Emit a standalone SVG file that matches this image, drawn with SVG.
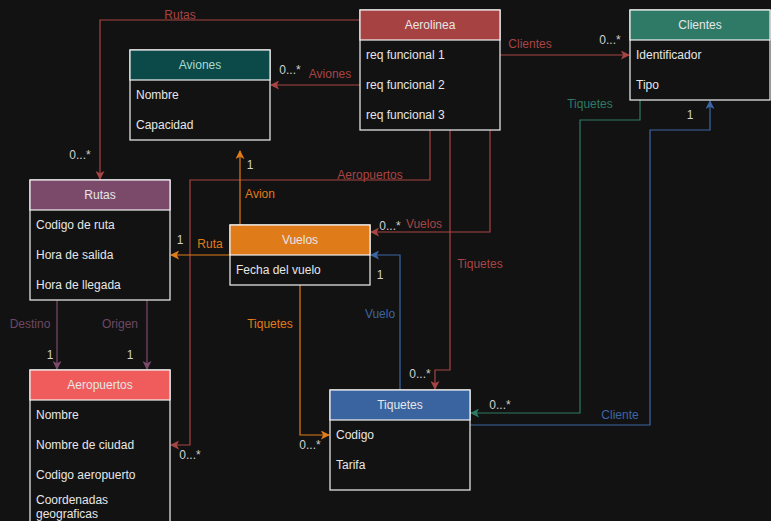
<svg xmlns="http://www.w3.org/2000/svg" width="771" height="521" viewBox="0 0 771 521">
<style>
text{font-family:"Liberation Sans",Arial,sans-serif;font-size:12px}
.f{fill:#e6e6e6}
.h{text-anchor:middle}
.box{fill:#121212;stroke:#f2f2f2;stroke-width:1.2}
.c{fill:none;stroke-width:1.2}
.r{stroke:#a94444}.o{stroke:#e07b19}.p{stroke:#7b4a6b}.b{stroke:#3d66a4}.g{stroke:#2e7a66}
.lr{fill:#a94444}.lo{fill:#e07b19}.lp{fill:#6e4862}.lb{fill:#3d66a4}.lg{fill:#2e7a66}.lw{fill:#d0d0d0}
</style>
<defs>
<marker id="mr" viewBox="0 0 10 10" refX="9" refY="5" markerWidth="9" markerHeight="9" markerUnits="userSpaceOnUse" orient="auto"><path d="M0,0L10,5L0,10L2.5,5z" fill="#a94444"/></marker>
<marker id="mo" viewBox="0 0 10 10" refX="9" refY="5" markerWidth="9" markerHeight="9" markerUnits="userSpaceOnUse" orient="auto"><path d="M0,0L10,5L0,10L2.5,5z" fill="#e07b19"/></marker>
<marker id="mp" viewBox="0 0 10 10" refX="9" refY="5" markerWidth="9" markerHeight="9" markerUnits="userSpaceOnUse" orient="auto"><path d="M0,0L10,5L0,10L2.5,5z" fill="#7b4a6b"/></marker>
<marker id="mb" viewBox="0 0 10 10" refX="9" refY="5" markerWidth="9" markerHeight="9" markerUnits="userSpaceOnUse" orient="auto"><path d="M0,0L10,5L0,10L2.5,5z" fill="#3d66a4"/></marker>
<marker id="mg" viewBox="0 0 10 10" refX="9" refY="5" markerWidth="9" markerHeight="9" markerUnits="userSpaceOnUse" orient="auto"><path d="M0,0L10,5L0,10L2.5,5z" fill="#2e7a66"/></marker>
</defs>
<rect width="771" height="521" fill="#121212"/>
<g id="connectors">
<path class="c r" d="M360,20H100V179" marker-end="url(#mr)"/>
<path class="c r" d="M360,85H271" marker-end="url(#mr)"/>
<path class="c r" d="M500,55H629" marker-end="url(#mr)"/>
<path class="c r" d="M430,130V180H190V445H171" marker-end="url(#mr)"/>
<path class="c r" d="M490,130V232H371" marker-end="url(#mr)"/>
<path class="c r" d="M450,130V370H435V389" marker-end="url(#mr)"/>
<path class="c o" d="M240,225V151" marker-end="url(#mo)"/>
<path class="c o" d="M230,255H171" marker-end="url(#mo)"/>
<path class="c o" d="M300,285V435H329" marker-end="url(#mo)"/>
<path class="c b" d="M400,390V255H371" marker-end="url(#mb)"/>
<path class="c b" d="M470,425H650V130H710V101" marker-end="url(#mb)"/>
<path class="c g" d="M640,100V120H580V413H471" marker-end="url(#mg)"/>
<path class="c p" d="M57,300V369" marker-end="url(#mp)"/>
<path class="c p" d="M147,300V369" marker-end="url(#mp)"/>
<text class="lr h" x="180" y="19">Rutas</text>
<text class="lw h" x="80" y="159">0...*</text>
<text class="lw h" x="290" y="74">0...*</text>
<text class="lr h" x="330" y="78">Aviones</text>
<text class="lr h" x="530" y="48">Clientes</text>
<text class="lw h" x="610" y="44">0...*</text>
<text class="lr h" x="370" y="179">Aeropuertos</text>
<text class="lw h" x="190" y="459">0...*</text>
<text class="lw h" x="390" y="230">0...*</text>
<text class="lr h" x="424" y="228">Vuelos</text>
<text class="lr h" x="480" y="268">Tiquetes</text>
<text class="lw h" x="420" y="378">0...*</text>
<text class="lw h" x="250" y="169">1</text>
<text class="lo h" x="260" y="198">Avion</text>
<text class="lw h" x="180" y="244">1</text>
<text class="lo h" x="210" y="248">Ruta</text>
<text class="lo h" x="270" y="328">Tiquetes</text>
<text class="lw h" x="310" y="449">0...*</text>
<text class="lw h" x="380" y="279">1</text>
<text class="lb h" x="380" y="318">Vuelo</text>
<text class="lg h" x="590" y="108">Tiquetes</text>
<text class="lw h" x="500" y="409">0...*</text>
<text class="lb h" x="620" y="419">Cliente</text>
<text class="lw h" x="690" y="119">1</text>
<text class="lp h" x="30" y="328">Destino</text>
<text class="lp h" x="120" y="328">Origen</text>
<text class="lw h" x="50" y="359">1</text>
<text class="lw h" x="130" y="359">1</text>
</g>
<g id="aerolinea">
<rect class="box" x="360" y="10" width="140" height="120"/>
<rect x="360" y="10" width="140" height="30" fill="#a64242" stroke="#f2f2f2" stroke-width="1.2"/>
<text class="f h" x="430" y="29">Aerolinea</text>
<text class="f" x="366" y="59">req funcional 1</text>
<text class="f" x="366" y="89">req funcional 2</text>
<text class="f" x="366" y="119">req funcional 3</text>
</g>
<g id="clientes">
<rect class="box" x="630" y="10" width="140" height="90"/>
<rect x="630" y="10" width="140" height="30" fill="#2e7a66" stroke="#f2f2f2" stroke-width="1.2"/>
<text class="f h" x="700" y="29">Clientes</text>
<text class="f" x="636" y="59">Identificador</text>
<text class="f" x="636" y="89">Tipo</text>
</g>
<g id="aviones">
<rect class="box" x="130" y="50" width="140" height="90"/>
<rect x="130" y="50" width="140" height="30" fill="#0b4a48" stroke="#f2f2f2" stroke-width="1.2"/>
<text class="h" x="200" y="69" fill="#a6dcd4">Aviones</text>
<text class="f" x="136" y="99">Nombre</text>
<text class="f" x="136" y="129">Capacidad</text>
</g>
<g id="rutas">
<rect class="box" x="30" y="180" width="140" height="120"/>
<rect x="30" y="180" width="140" height="30" fill="#7b4a6b" stroke="#f2f2f2" stroke-width="1.2"/>
<text class="f h" x="100" y="199">Rutas</text>
<text class="f" x="36" y="229">Codigo de ruta</text>
<text class="f" x="36" y="259">Hora de salida</text>
<text class="f" x="36" y="289">Hora de llegada</text>
</g>
<g id="vuelos">
<rect class="box" x="230" y="225" width="140" height="60"/>
<rect x="230" y="225" width="140" height="30" fill="#e07b19" stroke="#f2f2f2" stroke-width="1.2"/>
<text class="f h" x="300" y="244">Vuelos</text>
<text class="f" x="236" y="274">Fecha del vuelo</text>
</g>
<g id="aeropuertos">
<rect class="box" x="30" y="370" width="140" height="160"/>
<rect x="30" y="370" width="140" height="30" fill="#f05c5c" stroke="#f2f2f2" stroke-width="1.2"/>
<text class="f h" x="100" y="389">Aeropuertos</text>
<text class="f" x="36" y="419">Nombre</text>
<text class="f" x="36" y="449">Nombre de ciudad</text>
<text class="f" x="36" y="479">Codigo aeropuerto</text>
<text class="f" x="36" y="504">Coordenadas</text>
<text class="f" x="36" y="518">geograficas</text>
</g>
<g id="tiquetes">
<rect class="box" x="330" y="390" width="140" height="100"/>
<rect x="330" y="390" width="140" height="30" fill="#3a64a0" stroke="#f2f2f2" stroke-width="1.2"/>
<text class="f h" x="400" y="409">Tiquetes</text>
<text class="f" x="336" y="439">Codigo</text>
<text class="f" x="336" y="469">Tarifa</text>
</g>
</svg>
